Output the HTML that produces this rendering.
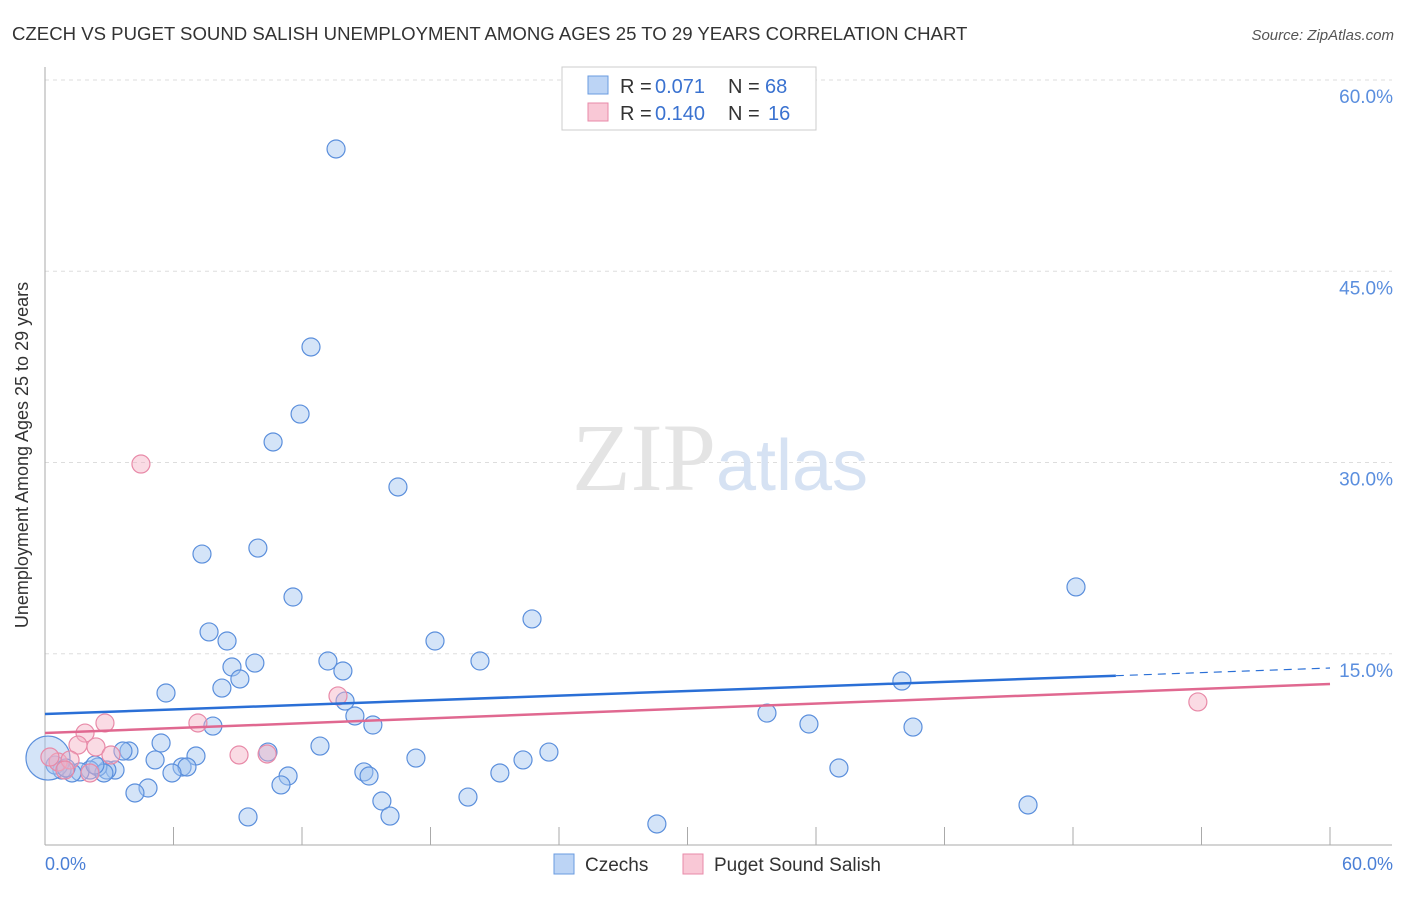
<!DOCTYPE html>
<html><head><meta charset="utf-8"><style>
body{margin:0;background:#fff;font-family:"Liberation Sans",sans-serif;}
</style></head><body>
<svg width="1406" height="892" xmlns="http://www.w3.org/2000/svg" style="font-family:'Liberation Sans',sans-serif">
<text x="12" y="40" font-size="18.6" fill="#333">CZECH VS PUGET SOUND SALISH UNEMPLOYMENT AMONG AGES 25 TO 29 YEARS CORRELATION CHART</text>
<text x="1394" y="40" font-size="15" fill="#555" font-style="italic" text-anchor="end">Source: ZipAtlas.com</text>
<g id="grid"></g>
<text x="720" y="490" font-size="96" fill="#e4e4e4" text-anchor="middle" font-family="Liberation Serif">ZIP<tspan fill="#d6e2f3" font-family="Liberation Sans" font-size="72">atlas</tspan></text>
<g id="pts"></g>
<g id="lines"></g>
<text x="28" y="455" font-size="18" fill="#333" text-anchor="middle" transform="rotate(-90 28 455)">Unemployment Among Ages 25 to 29 years</text>
<text x="45" y="870" font-size="18" fill="#4a7fd6">0.0%</text>
<text x="1393" y="870" font-size="18" fill="#4a7fd6" text-anchor="end">60.0%</text>
<g>
<rect x="562" y="67" width="254" height="63" fill="#fff" stroke="#ccc"/>
<rect x="588" y="76" width="20" height="18" fill="#bcd4f5" stroke="#6a9be0"/>
<rect x="588" y="103" width="20" height="18" fill="#f9c8d6" stroke="#e88aa8"/>
<text x="620" y="93" font-size="20" fill="#333">R =</text>
<text x="655" y="93" font-size="20" fill="#3a72d0">0.071</text>
<text x="728" y="93" font-size="20" fill="#333">N =</text>
<text x="765" y="93" font-size="20" fill="#3a72d0">68</text>
<text x="620" y="120" font-size="20" fill="#333">R =</text>
<text x="655" y="120" font-size="20" fill="#3a72d0">0.140</text>
<text x="728" y="120" font-size="20" fill="#333">N =</text>
<text x="768" y="120" font-size="20" fill="#3a72d0">16</text>
</g>
<g>
<rect x="554" y="854" width="20" height="20" fill="#bcd4f5" stroke="#6a9be0"/>
<text x="585" y="871" font-size="19" fill="#333">Czechs</text>
<rect x="683" y="854" width="20" height="20" fill="#f9c8d6" stroke="#e88aa8"/>
<text x="714" y="871" font-size="19" fill="#333">Puget Sound Salish</text>
</g>
</svg>
<script>
const yTicks=[15,30,45,60];
const yTickLabels=["15.0%","30.0%","45.0%","60.0%"];
const czX=[13.59,12.42,11.91,10.65,16.48,9.94,7.33,11.58,22.74,7.66,18.21,8.50,20.31,13.21,13.91,9.80,8.73,9.10,8.26,5.65,40.01,48.14,14.01,14.47,33.71,35.67,40.53,15.31,7.84,5.42,12.84,3.92,3.64,7.05,10.41,23.53,17.32,22.32,5.14,6.40,6.63,5.93,11.35,14.89,15.13,21.24,37.07,3.27,2.89,2.47,2.10,1.63,1.26,0.79,0.47,0.14,11.02,4.81,4.20,15.73,19.75,45.90,9.48,16.11,28.57,2.75,0.98,2.33];
const czY=[54.59,39.06,33.80,31.61,28.08,23.29,22.82,19.45,17.73,16.71,16.0,16.0,14.43,14.43,13.65,14.27,13.96,13.02,12.31,11.92,12.86,20.24,11.29,10.12,10.35,9.49,9.25,9.41,9.33,8.0,7.76,7.37,7.37,6.98,7.29,7.29,6.82,6.67,6.67,6.12,6.12,5.65,5.41,5.73,5.41,5.65,6.04,5.88,5.88,6.12,5.88,5.73,5.65,5.88,6.27,6.82,4.71,4.47,4.08,3.45,3.76,3.14,2.20,2.27,1.65,5.65,6.04,6.27];
const psX=[4.48,13.68,53.83,2.80,1.87,1.54,2.38,9.06,10.37,7.14,3.08,2.10,0.61,1.17,0.23,0.93];
const psY=[29.88,11.69,11.22,9.57,8.78,7.84,7.69,7.06,7.14,9.57,7.06,5.65,6.51,6.67,6.90,5.88];
const czTrend=[10.27,13.88];
const psTrend=[8.78,12.63];
const NS="http://www.w3.org/2000/svg";
const X=v=>45+v/60*1285;
const Y=v=>845-v*12.75;
function mk(t,a,p){const e=document.createElementNS(NS,t);for(const k in a)e.setAttribute(k,a[k]);p.appendChild(e);return e;}
const grid=document.getElementById('grid');
yTicks.forEach((t,i)=>{
 const l=mk('line',{x1:45,x2:1392,y1:Y(t),y2:Y(t),stroke:'#ddd','stroke-dasharray':'4 4'},grid);
 
 
 const tx=mk('text',{x:1393,y:Y(t)+23,'font-size':19,fill:'#5a8ede','text-anchor':'end'},grid);
 tx.textContent=yTickLabels[i];
 
 
});
const ax=mk('line',{x1:45,x2:45,y1:67,y2:845,stroke:'#aaa'},grid);


const bx=mk('line',{x1:45,x2:1392,y1:845,y2:845,stroke:'#aaa'},grid);


for(let k=1;k<=10;k++){const t=mk('line',{x1:X(k*6),x2:X(k*6),y1:827,y2:845,stroke:'#aaa'},grid);
 
 }
const pts=document.getElementById('pts');
czX.forEach((x,i)=>{const c=mk('circle',{cx:X(x),cy:Y(czY[i]),r:i==55?22:9,fill:'rgba(160,196,240,0.45)',stroke:'#5b8fdc','stroke-width':1.2},pts);
 
 });
psX.forEach((x,i)=>{const c=mk('circle',{cx:X(x),cy:Y(psY[i]),r:9,fill:'rgba(245,175,195,0.45)',stroke:'#e88aa8','stroke-width':1.2},pts);
 
 });
const lines=document.getElementById('lines');
const f=v=>czTrend[0]+(czTrend[1]-czTrend[0])*v/60;
const l1=mk('line',{x1:X(0),y1:Y(f(0)),x2:X(50),y2:Y(f(50)),stroke:'#2a6fd6','stroke-width':2.5},lines);


const l2=mk('line',{x1:X(50),y1:Y(f(50)),x2:X(60),y2:Y(f(60)),stroke:'#2a6fd6','stroke-width':1.2,'stroke-dasharray':'8 6'},lines);


const l3=mk('line',{x1:X(0),y1:Y(psTrend[0]),x2:X(60),y2:Y(psTrend[1]),stroke:'#e06890','stroke-width':2.5},lines);


</script>
</body></html>
